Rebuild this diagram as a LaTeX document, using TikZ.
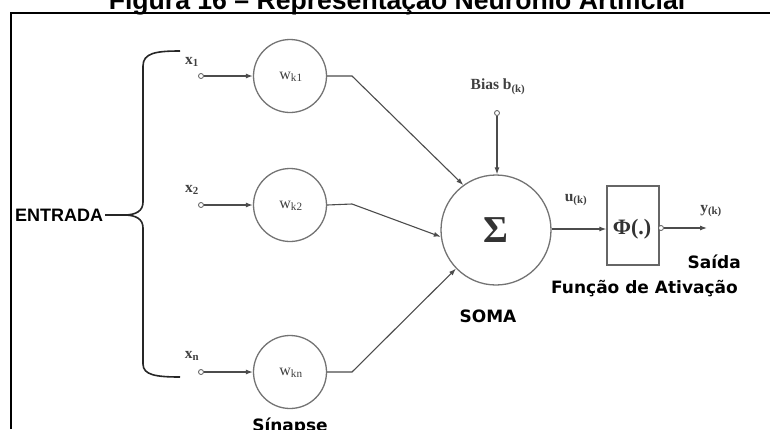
\documentclass[tikz,border=0pt]{standalone}
\usepackage{fontspec}
\setmainfont{Liberation Serif}
\setsansfont{Liberation Sans}
\newfontfamily\labelfont{DejaVu Sans}
\usetikzlibrary{arrows.meta}
\begin{document}
\begin{tikzpicture}[x=1pt,y=-1pt,
  wire/.style={draw=black!70, line width=1.1pt},
  arr/.style={wire,-{Latex[length=7pt,width=5pt]}},
  synapse/.style={circle, draw=black!55, line width=1.3pt, minimum size=73pt, inner sep=0pt},
  term/.style={circle, draw=black!65, line width=0.8pt, fill=white, minimum size=5pt, inner sep=0pt},
  sym/.style={font=\bfseries\fontsize{15.5}{17}\selectfont, text=black!75, inner sep=0pt},
  wlab/.style={font=\fontsize{16}{18}\selectfont, text=black!75, inner sep=0pt},
  captext/.style={font=\labelfont\bfseries\fontsize{17}{20}\selectfont, inner sep=0pt},
]
\useasboundingbox (0,0) rectangle (770,429);
\clip (0,0) rectangle (770,429);

% caption and frame
\node[font=\sffamily\bfseries\fontsize{26.6}{30}\selectfont, anchor=base, inner sep=0pt] (title) at (397,9) {Figura 16 – Representação Neurônio Artificial};
\draw[line width=2pt] (11,429) -- (11,13) -- (770,13);

% inputs
\node[font=\sffamily\bfseries\fontsize{18}{20}\selectfont, anchor=base west, inner sep=0pt] (entrada) at (15,221) {ENTRADA};
\coordinate (tip) at (124,215);
\draw[line width=1.6pt, black!85] (entrada.east |- tip) ++(2,0) -- (tip);
\draw[line width=1.6pt, black!85]
  (180,51) .. controls (156,51) and (143,53) .. (143,66) -- (143,202)
  .. controls (143,211) and (136,215) .. (tip)
  .. controls (136,215) and (143,219) .. (143,228) -- (143,364)
  .. controls (143,375) and (156,377) .. (180,377);

\node[sym] (x1) at (192,62) {x\textsubscript{1}};
\node[sym] (x2) at (192,190) {x\textsubscript{2}};
\node[sym] (xn) at (192,356) {x\textsubscript{n}};

\node[term] (t1) at (201,76) {};
\node[term] (t2) at (201,205) {};
\node[term] (tn) at (201,372) {};

% synaptic weights
\node[synapse] (w1) at (290,76) {};
\node[synapse] (w2) at (290,205) {};
\node[synapse] (wn) at (290,372) {};
\node[wlab] (lw1) at (291,77) {w\textsubscript{k1}};
\node[wlab] (lw2) at (291,206) {w\textsubscript{k2}};
\node[wlab] (lwn) at (291,373) {w\textsubscript{kn}};

\draw[arr] (t1) -- (w1);
\draw[arr] (t2) -- (w2);
\draw[arr] (tn) -- (wn);

% summing junction
\node[circle, draw=black!55, line width=1.3pt, minimum size=110pt, inner sep=0pt,
      font=\bfseries\fontsize{38}{40}\selectfont, text=black!80] (sum) at (496,230) {Σ};

\coordinate (b1) at (352,76);
\coordinate (b2) at (352,204);
\coordinate (bn) at (352,372);
\draw[arr] (w1.east) -- (b1) -- (sum.126);
\draw[arr] (w2.east) -- (b2) -- (sum.187);
\draw[arr] (wn.east) -- (bn) -- (sum.224);

% bias
\node[sym] (bias) at (498,87) {Bias b\textsubscript{(k)}};
\node[term] (tb) at (497,113) {};
\draw[arr] (tb) -- (sum.north -| tb);

% activation
\node[draw=black!60, line width=1.3pt, minimum width=52pt, minimum height=79pt, inner sep=0pt] (phibox) at (633,225.5) {};
\node[font=\bfseries\fontsize{22}{24}\selectfont, text=black!80, inner sep=0pt] (phi) at (632,229) {Φ(.)};
\draw[arr] (sum.east |- 0,229) -- (phibox.west |- 0,229);
\node[sym] (u) at (576,200) {u\textsubscript{(k)}};

\node[term] (to) at (661,228) {};
\coordinate (yend) at (707,228);
\draw[arr] (to) -- (yend);
\node[sym] (y) at (711,211) {y\textsubscript{(k)}};

% captions
\node[captext, anchor=base east] (saida) at (741,268) {Saída};
\node[captext, anchor=base] (funcao) at (644.5,293) {Função de Ativação};
\node[captext, anchor=base] (soma) at (488,322) {SOMA};
\node[captext, anchor=base] (sinapse) at (290,431) {Sínapse};
\end{tikzpicture}
\end{document}
